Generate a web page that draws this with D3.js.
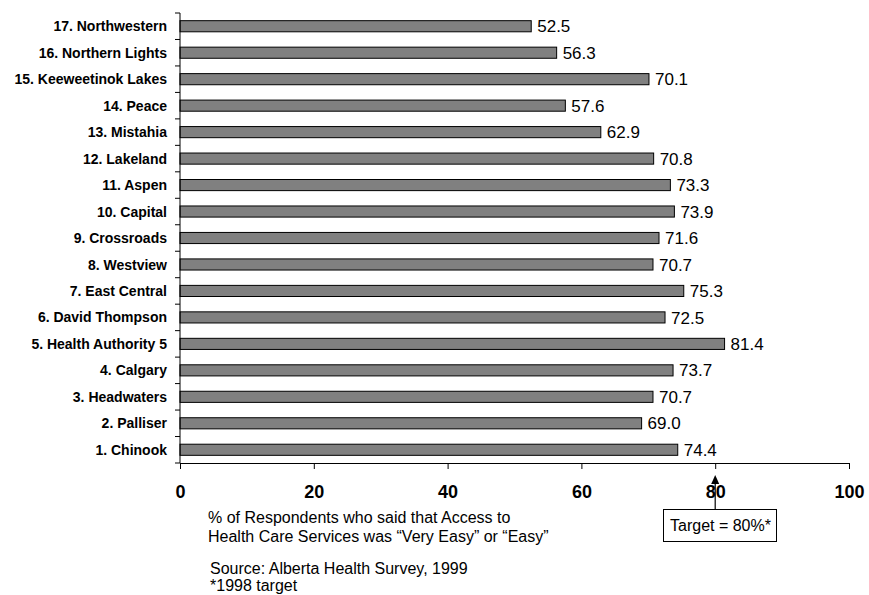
<!DOCTYPE html>
<html>
<head>
<meta charset="utf-8">
<script src="https://cdn.jsdelivr.net/npm/d3@7"></script>
<style>
  body { margin: 0; background: #fff; }
  svg { display: block; font-family: Arial, "Liberation Sans", sans-serif; }
</style>
</head>
<body>
<svg id="chart" width="869" height="595"></svg>
<script>
// Health regions, top to bottom
const regions = [
  "17. Northwestern", "16. Northern Lights", "15. Keeweetinok Lakes", "14. Peace",
  "13. Mistahia", "12. Lakeland", "11. Aspen", "10. Capital", "9. Crossroads",
  "8. Westview", "7. East Central", "6. David Thompson", "5. Health Authority 5",
  "4. Calgary", "3. Headwaters", "2. Palliser", "1. Chinook"
];
// % who said access was "Very Easy" or "Easy"
const accessPct = [
  52.5, 56.3, 70.1, 57.6, 62.9, 70.8, 73.3, 73.9, 71.6,
  70.7, 75.3, 72.5, 81.4, 73.7, 70.7, 69.0, 74.4
];
const xTicks = [0, 20, 40, 60, 80, 100];
const targetValue = 80;
const axisTitle = ["% of Respondents who said that Access to",
                   "Health Care Services was \u201cVery Easy\u201d or \u201cEasy\u201d"];
const sourceNotes = ["Source: Alberta Health Survey, 1999", "*1998 target"];
const targetLabel = "Target = 80%*";

const svg = d3.select("#chart");
const plotLeft = 180, plotRight = 849, plotTop = 13, plotBottom = 463;

const x = d3.scaleLinear().domain([0, 100]).range([plotLeft, plotRight]);
const y = d3.scaleBand().domain(regions).range([plotTop, plotBottom]).paddingInner(0.58).paddingOuter(0.29);

// Bars
svg.append("g").selectAll("rect")
  .data(regions)
  .join("rect")
  .attr("x", x(0))
  .attr("y", d => y(d))
  .attr("width", (d, i) => x(accessPct[i]) - x(0))
  .attr("height", y.bandwidth())
  .attr("fill", "#808080")
  .attr("stroke", "#000")
  .attr("stroke-width", 1);

// Value labels
svg.append("g").selectAll("text")
  .data(regions)
  .join("text")
  .attr("x", (d, i) => x(accessPct[i]) + 6)
  .attr("y", d => y(d) + y.bandwidth() / 2)
  .attr("dy", "0.36em")
  .attr("font-size", 17)
  .attr("fill", "#000")
  .text((d, i) => accessPct[i].toFixed(1));

// Category axis: line with ticks at band boundaries
const yAxisG = svg.append("g");
yAxisG.append("line")
  .attr("x1", plotLeft).attr("x2", plotLeft)
  .attr("y1", plotTop).attr("y2", plotBottom)
  .attr("stroke", "#000");
const boundaries = d3.range(regions.length + 1)
  .map(i => plotTop + i * (plotBottom - plotTop) / regions.length);
yAxisG.selectAll("line.tick")
  .data(boundaries)
  .join("line")
  .attr("class", "tick")
  .attr("x1", plotLeft - 5).attr("x2", plotLeft)
  .attr("y1", d => d).attr("y2", d => d)
  .attr("stroke", "#000");
yAxisG.selectAll("text")
  .data(regions)
  .join("text")
  .attr("x", plotLeft - 13)
  .attr("y", d => y(d) + y.bandwidth() / 2)
  .attr("dy", "0.36em")
  .attr("text-anchor", "end")
  .attr("font-size", 14)
  .attr("font-weight", "bold")
  .attr("fill", "#000")
  .text(d => d);

// Value axis
const xAxis = d3.axisBottom(x).tickValues(xTicks).tickSize(6).tickSizeOuter(0).tickPadding(16);
const xAxisG = svg.append("g")
  .attr("transform", `translate(0,${plotBottom})`)
  .call(xAxis);
xAxisG.select(".domain").attr("stroke", "#000");
xAxisG.selectAll(".tick line").attr("stroke", "#000");
xAxisG.selectAll(".tick text")
  .attr("font-size", 18)
  .attr("font-weight", "bold")
  .attr("font-family", "Arial, 'Liberation Sans', sans-serif")
  .attr("fill", "#000");

// Axis title and notes
svg.append("g").selectAll("text")
  .data(axisTitle)
  .join("text")
  .attr("x", 208)
  .attr("y", (d, i) => 523 + i * 18.5)
  .attr("font-size", 16)
  .attr("fill", "#000")
  .text(d => d);

svg.append("g").selectAll("text")
  .data(sourceNotes)
  .join("text")
  .attr("x", 210)
  .attr("y", (d, i) => 574 + i * 16.5)
  .attr("font-size", 16)
  .attr("fill", "#000")
  .text(d => d);

// Target annotation: box with arrow pointing up to the 80 tick
const tx = x(targetValue);
const ann = svg.append("g");
ann.append("line")
  .attr("x1", tx).attr("x2", tx)
  .attr("y1", 509).attr("y2", 482)
  .attr("stroke", "#000").attr("stroke-width", 1.2);
ann.append("path")
  .attr("d", `M${tx},475 L${tx - 4},484 L${tx + 4},484 Z`)
  .attr("fill", "#000");
ann.append("rect")
  .attr("x", 663.5).attr("y", 509.5)
  .attr("width", 113).attr("height", 32)
  .attr("fill", "#fff").attr("stroke", "#000");
ann.append("text")
  .attr("x", 670).attr("y", 531)
  .attr("font-size", 16)
  .attr("fill", "#000")
  .text(targetLabel);
</script>
</body>
</html>
